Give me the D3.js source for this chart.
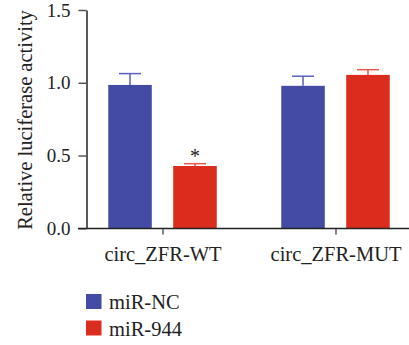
<!DOCTYPE html>
<html>
<head>
<meta charset="utf-8">
<script src="https://cdn.jsdelivr.net/npm/d3@7"></script>
<style>
  body { margin: 0; background: #fff; }
  svg text { font-family: "Liberation Serif", serif; fill: #222; }
</style>
</head>
<body>
<div id="chart"></div>
<script>
var groups = ["circ_ZFR-WT", "circ_ZFR-MUT"];
var series = ["miR-NC", "miR-944"];
var means = [[0.985, 0.428], [0.979, 1.054]];
var errors = [[0.078, 0.016], [0.066, 0.036]];
var stars = [["", "*"], ["", ""]];
var yTicks = [0, 0.5, 1.0, 1.5];

var width = 409, height = 345;
var barColors = ["#434ba5", "#dc2c1e"];
var errColors = ["#5a60bf", "#e8574c"];
var fontSize = "20.5px";

var svg = d3.select("#chart").append("svg")
  .attr("width", width).attr("height", height);

var y = d3.scaleLinear().domain([0, 1.5]).range([228.3, 10]);
var x0 = d3.scalePoint().domain(groups).range([162.5, 335.5]);
var x1 = d3.scaleBand().domain(series).range([-54.25, 54.25]).paddingInner(0.33);

// bars
groups.forEach(function (g, gi) {
  var grp = svg.append("g").attr("transform", "translate(" + x0(g) + ",0)");
  series.forEach(function (s, si) {
    var v = means[gi][si], e = errors[gi][si];
    var bx = x1(s), bw = x1.bandwidth();
    var cx = bx + bw / 2;
    // error bar (upper only)
    grp.append("line")
      .attr("x1", cx).attr("x2", cx)
      .attr("y1", y(v)).attr("y2", y(v + e))
      .attr("stroke", errColors[si]).attr("stroke-width", 1.5);
    grp.append("line")
      .attr("x1", cx - 11).attr("x2", cx + 11)
      .attr("y1", y(v + e)).attr("y2", y(v + e))
      .attr("stroke", errColors[si]).attr("stroke-width", 1.5);
    grp.append("rect")
      .attr("x", bx).attr("width", bw)
      .attr("y", y(v)).attr("height", y(0) - y(v))
      .attr("fill", barColors[si]);
    if (stars[gi][si]) {
      grp.append("text")
        .attr("x", cx).attr("y", y(v + e) - 0.5)
        .attr("text-anchor", "middle")
        .style("font-size", "20px")
        .text(stars[gi][si]);
    }
  });
});

// y axis
var yAxis = svg.append("g")
  .attr("transform", "translate(86.5,0)")
  .call(d3.axisLeft(y).tickValues(yTicks).tickFormat(d3.format(".1f")).tickSize(8).tickSizeOuter(0));
yAxis.attr("font-family", null).attr("font-size", null);
yAxis.select(".domain").attr("stroke", "#222").attr("stroke-width", 1.5);
yAxis.selectAll(".tick line").attr("stroke", "#555").attr("stroke-width", 1.5);
yAxis.selectAll(".tick text")
  .attr("x", -16)
  .style("font-size", "19px")
  .attr("fill", "#222");

// x axis
var xAxis = svg.append("g")
  .attr("transform", "translate(0,228.5)")
  .call(d3.axisBottom(x0).tickSize(6).tickSizeOuter(0));
xAxis.attr("font-family", null).attr("font-size", null);
xAxis.select(".domain").attr("d", "M78,0H409").attr("stroke", "#222").attr("stroke-width", 1.5);
xAxis.selectAll(".tick line").attr("stroke", "#333").attr("stroke-width", 1.2);
xAxis.selectAll(".tick text")
  .attr("y", 18)
  .style("font-size", fontSize)
  .attr("fill", "#222");

// y label
svg.append("text")
  .attr("transform", "translate(31.5,120) rotate(-90)")
  .attr("text-anchor", "middle")
  .style("font-size", fontSize)
  .text("Relative luciferase activity");

// legend
var legend = svg.append("g");
series.forEach(function (s, i) {
  legend.append("rect")
    .attr("x", 86).attr("y", 294 + i * 26.5)
    .attr("width", 15.5).attr("height", 15)
    .attr("fill", barColors[i]);
  legend.append("text")
    .attr("x", 109).attr("y", 309 + i * 26.5)
    .style("font-size", fontSize)
    .text(s);
});
</script>
</body>
</html>
